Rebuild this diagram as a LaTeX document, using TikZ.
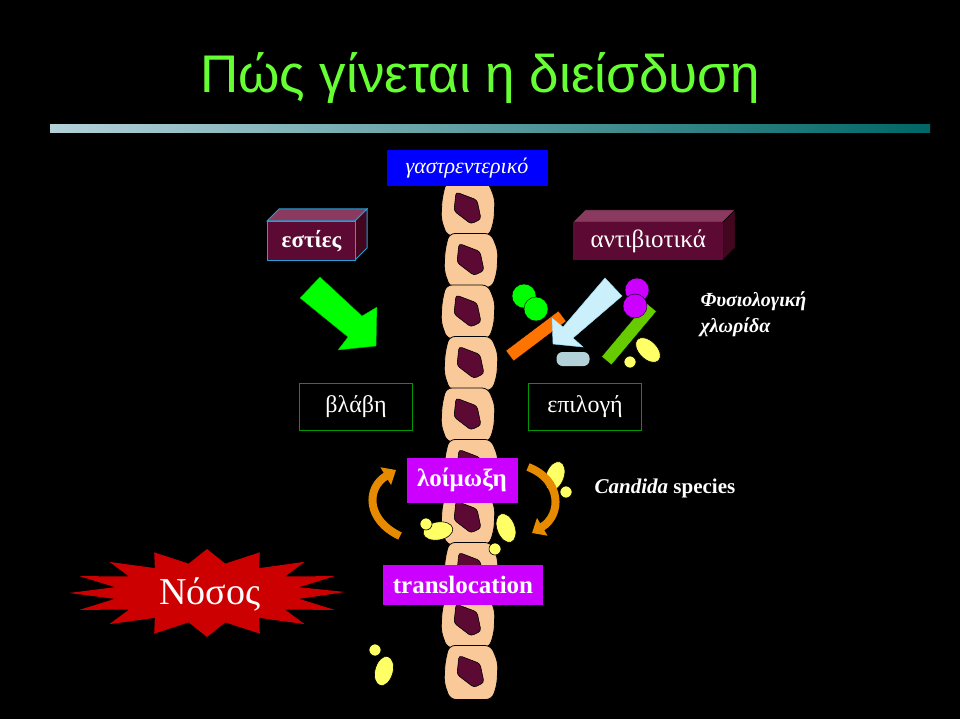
\documentclass[tikz,border=0pt]{standalone}
\usepackage{fontspec}
\setmainfont{Liberation Serif}
\newfontfamily\titlefont{Liberation Sans}
\usetikzlibrary{positioning,arrows.meta}
\definecolor{titleGreen}{HTML}{66FF33}
\definecolor{boxWine}{HTML}{5C0A33}
\definecolor{boxWineTop}{HTML}{8A3A5E}
\definecolor{boxWineSide}{HTML}{42061F}
\definecolor{cellPeach}{HTML}{F9C99A}
\definecolor{nucleus}{HTML}{5C0A33}
\definecolor{loimMagenta}{HTML}{CC00FF}
\definecolor{yeastYellow}{HTML}{FFFF66}
\definecolor{arrowOrange}{HTML}{E68A00}
\definecolor{pillBlue}{HTML}{B3D1D9}
\tikzset{
  labelbox/.style={draw=green!60!black, line width=1.2pt, minimum width=113, minimum height=47, text=white, font=\fontsize{24}{28}\selectfont},
  magbox/.style={fill=loimMagenta, text=white, font=\bfseries\fontsize{25}{29}\selectfont, inner sep=3pt},
  yeast/.style={fill=yeastYellow, draw=black, line width=0.6pt},
}
\newcommand{\cellat}[2]{
  \begin{scope}[shift={(#1,#2)}]
    \filldraw[fill=cellPeach, draw=black, line width=0.8pt, rounded corners=6]
      (-22,-27) -- (20,-27) -- (27,-10) -- (26,12) -- (21,27) -- (-21,27) -- (-27,10) -- (-26,-10) -- cycle;
    \filldraw[fill=nucleus, draw=black, line width=0.6pt, rounded corners=3]
      (-12,-17) -- (9,-9) -- (13,10) -- (3,15) -- (-14,2) -- cycle;
  \end{scope}
}
\newcommand{\yeastpair}[6]{
  \filldraw[yeast, rotate around={#6:(#1,#2)}] (#1,#2) ellipse (9 and 15);
  \filldraw[yeast] (#3,#4) circle (#5);
}
\begin{document}
\begin{tikzpicture}[x=1pt, y=-1pt]
  \fill[black] (0,0) rectangle (960,719);
  \useasboundingbox (0,0) rectangle (960,719);
  % title
  \node[text=titleGreen, font=\titlefont\fontsize{53}{60}\selectfont] (title) at (480,78) {Πώς γίνεται η διείσδυση};
  \shade[left color=pillBlue, right color=teal!80!black] (50,125) rectangle (930,133);
  % cell column
  \foreach \k [evaluate=\k as \cy using 209+\k*51.5, evaluate=\k as \cx using {468+3*mod(\k,2)}] in {0,...,9}
    \cellat{\cx}{\cy};
  \node[fill=blue, text=white, font=\itshape\fontsize{22}{26}\selectfont, minimum width=161, minimum height=36] (gastro) at (467,168) {γαστρεντερικό};
  % estíes box
  \filldraw[fill=boxWineTop, draw=cyan!70!teal, line width=1pt] (267,221) -- (279,209) -- (367,209) -- (355,221) -- cycle;
  \filldraw[fill=boxWineSide, draw=cyan!70!teal, line width=1pt] (355,221) -- (367,209) -- (367,248) -- (355,260) -- cycle;
  \node[fill=boxWine, draw=cyan!70!teal, line width=1pt, minimum width=88, minimum height=39, text=white, font=\bfseries\fontsize{23}{26}\selectfont, anchor=north west, inner sep=0] (esties) at (267,221) {εστίες};
  % antibiotics box
  \filldraw[fill=boxWineTop, draw=black] (573,222) -- (585,210) -- (735,210) -- (723,222) -- cycle;
  \filldraw[fill=boxWineSide, draw=black] (723,222) -- (735,210) -- (735,248) -- (723,260) -- cycle;
  \node[fill=boxWine, minimum width=150, minimum height=38, text=white, font=\fontsize{25}{28}\selectfont, anchor=north west, inner sep=0] (antib) at (573,222) {αντιβιοτικά};
  % block arrows
  \filldraw[fill=green, draw=green!70!black] (300,298) -- (320,277) -- (362,316) -- (377,307) -- (376,346) -- (338,350) -- (348,337) -- cycle;
  % flora
  \node[fill=orange!90!red, draw=black, minimum width=66, minimum height=13, rotate=37, inner sep=0] (orangebar) at (536,336) {};
  \filldraw[fill=green, draw=black] (524,296) circle (12);
  \filldraw[fill=green, draw=black] (536,309) circle (12);
  \filldraw[fill=cyan!20, draw=cyan!40] (605,278) -- (622,296) -- (573,338) -- (583,347) -- (553,344) -- (552,318) -- (563,327) -- cycle;
  \node[fill=pillBlue, rounded corners=6, minimum width=33, minimum height=14, inner sep=0] (pill) at (573,359) {};
  \node[fill=green!50!olive!80!yellow, draw=black, minimum width=70, minimum height=13, rotate=50, inner sep=0] (olivebar) at (629,334) {};
  \filldraw[fill=loimMagenta, draw=black] (637,290) circle (12);
  \filldraw[fill=loimMagenta, draw=black] (635,306) circle (12);
  \yeastpair{648}{350}{630}{362}{6}{45}
  \node[text=white, font=\bfseries\itshape\fontsize{20}{26}\selectfont, align=left, anchor=north west] (flora) at (697,288) {Φυσιολογική\\χλωρίδα};
  % selection boxes
  \node[labelbox] (vlavi) at (356,407) {βλάβη};
  \node[labelbox] (epilogi) at (585,407) {επιλογή};
  % infection
  \yeastpair{438}{531}{426}{524}{6}{-80}
  \yeastpair{506}{528}{495}{549}{6}{20}
  \yeastpair{555}{476}{566}{492}{6}{-20}
  \yeastpair{384}{671}{375}{650}{6}{-15}
  \node[magbox, minimum width=111, minimum height=45] (loimoxi) at (462,480) {λοίμωξη};
  \draw[arrowOrange, line width=8, -{Triangle[length=12, width=20]}] (400,536) .. controls (366,520) and (366,488) .. (396,470);
  \draw[arrowOrange, line width=8, -{Triangle[length=12, width=20]}] (528,467) .. controls (562,480) and (562,515) .. (532,533);
  \node[text=white, font=\bfseries\fontsize{21}{24}\selectfont] (candida) at (665,488) {\textit{Candida} species};
  \node[magbox, minimum width=160, minimum height=40] (transloc) at (463,585) {translocation};
  % disease burst
  \fill[red!80!black] (345,592) \foreach[evaluate=\i as \r using {mod(\i,2)==0 ? 1 : 0.68}] \i in {1,...,31} { -- ({207+\r*138*cos(\i*11.25)},{593+\r*44*sin(\i*11.25)}) } -- cycle;
  \node[text=white, font=\fontsize{38}{44}\selectfont] (nosos) at (210,594) {Νόσος};
\end{tikzpicture}
\end{document}
